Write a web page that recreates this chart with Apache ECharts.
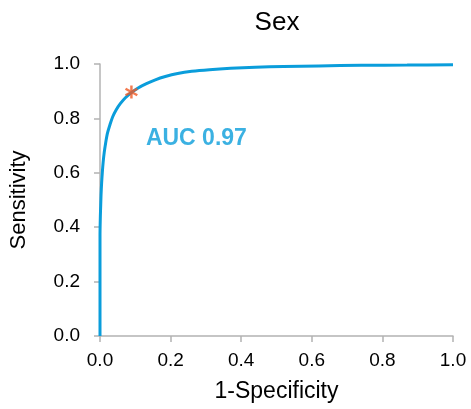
<!DOCTYPE html>
<html>
<head>
<meta charset="utf-8">
<script src="https://cdn.jsdelivr.net/npm/echarts@6/dist/echarts.min.js"></script>
<style>html,body{margin:0;padding:0;background:#fff}#c{width:471px;height:409px}</style>
</head>
<body>
<div id="c"></div>
<script>
var titleText = 'Sex';
var xName = '1-Specificity';
var yName = 'Sensitivity';
var aucText = 'AUC 0.97';
var fpr = [0, 0, 0.001, 0.002, 0.003, 0.0045, 0.0065, 0.009, 0.012, 0.016, 0.021, 0.028, 0.036, 0.046, 0.058, 0.072, 0.089, 0.108, 0.13, 0.155, 0.185, 0.22, 0.26, 0.31, 0.37, 0.44, 0.52, 0.62, 0.74, 0.87, 1.0];
var tpr = [0, 0.37, 0.44, 0.48, 0.52, 0.56, 0.60, 0.64, 0.675, 0.71, 0.745, 0.776, 0.806, 0.832, 0.855, 0.876, 0.895, 0.912, 0.927, 0.941, 0.954, 0.965, 0.973, 0.979, 0.984, 0.988, 0.991, 0.993, 0.995, 0.996, 0.997];
var cutoff = [0.089, 0.897];
var aucPos = [0.13, 0.727];

var chart = echarts.init(document.getElementById('c'), null, {renderer: 'canvas'});
var font = 'Liberation Sans, Arial, sans-serif';
var axisGray = '#b3b3b3';
var star = 'path://M-0.9,-5 L0.9,-5 L0.9,5 L-0.9,5 Z M-4.78,-1.72 L-3.88,-3.28 L4.78,1.72 L3.88,3.28 Z M-3.88,3.28 L-4.78,1.72 L3.88,-3.28 L4.78,-1.72 Z';
chart.setOption({
  animation: false,
  title: {
    text: titleText, left: 272, top: 5, textAlign: 'center',
    textStyle: {fontFamily: font, fontSize: 26, fontWeight: 'normal', color: '#000'}
  },
  grid: {left: 100, right: 18, top: 64, bottom: 73},
  xAxis: {
    type: 'value', min: 0, max: 1, interval: 0.2,
    name: xName, nameLocation: 'middle', nameGap: 44,
    nameTextStyle: {fontFamily: font, fontSize: 23, color: '#000'},
    axisLine: {show: true, lineStyle: {color: axisGray, width: 1.5}},
    axisTick: {show: true, length: 6, lineStyle: {color: axisGray, width: 1.5}},
    axisLabel: {margin: 15, fontFamily: font, fontSize: 19, color: '#000', formatter: function(v){return v.toFixed(1);}},
    splitLine: {show: false}
  },
  yAxis: {
    type: 'value', min: 0, max: 1, interval: 0.2,
    name: yName, nameLocation: 'middle', nameGap: 70,
    nameTextStyle: {fontFamily: font, fontSize: 22, color: '#000'},
    axisLine: {show: true, lineStyle: {color: axisGray, width: 1.5}},
    axisTick: {show: true, length: 6, lineStyle: {color: axisGray, width: 1.5}},
    axisLabel: {margin: 20, fontFamily: font, fontSize: 19, color: '#000', formatter: function(v){return v.toFixed(1);}},
    splitLine: {show: false}
  },
  series: [
    {
      type: 'line', data: fpr.map(function(x, i){return [x, tpr[i]];}),
      smooth: 0.3, showSymbol: false, symbol: 'none',
      lineStyle: {color: '#0a9ddb', width: 3}, z: 2
    },
    {
      type: 'scatter', data: [cutoff], symbol: star, symbolSize: 13,
      itemStyle: {color: '#f05a24'}, z: 3
    },
    {
      type: 'scatter', data: [aucPos], symbolSize: 0,
      label: {show: true, position: 'right', distance: 0, formatter: aucText,
        fontFamily: font, fontSize: 23, fontWeight: 'bold', color: '#0a9ddb'},
      z: 4
    }
  ]
});
</script>
</body>
</html>
